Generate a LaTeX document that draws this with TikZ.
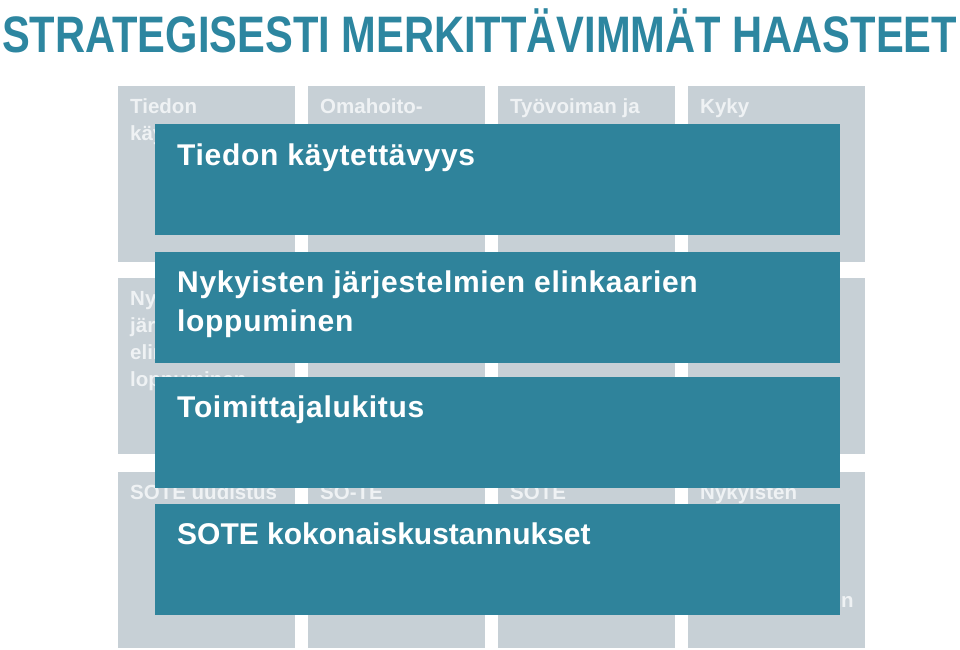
\documentclass[tikz,border=0pt]{standalone}
\usepackage{fontspec}
\setmainfont{Liberation Sans}
\newfontfamily\spacedfont{Liberation Sans}[LetterSpace=2.3]
\usepackage{graphicx}
\definecolor{teal1}{HTML}{2F839B}
\definecolor{titleteal}{HTML}{2D86A0}
\definecolor{grayfill}{HTML}{C7D0D6}
\definecolor{graytxt}{HTML}{EFF2F4}
\tikzset{
  graybox/.style={draw=none, fill=grayfill, anchor=north west, minimum width=177pt, minimum height=176pt, inner sep=0pt, outer sep=0pt},
  graytext/.style={anchor=base west, inner sep=0pt, text=graytxt, font=\fontsize{20.5}{27.3}\selectfont\bfseries},
  tealbox/.style={draw=none, fill=teal1, anchor=north west, minimum width=685pt, minimum height=111pt, inner sep=0pt, outer sep=0pt},
  tealtext/.style={anchor=base west, inner sep=0pt, text=white, font=\fontsize{30}{39}\selectfont\bfseries},
}
\begin{document}
\begin{tikzpicture}[x=1pt, y=-1pt]
\useasboundingbox (0,0) rectangle (960,649);
% title
\node[anchor=base west, inner sep=0pt, text=titleteal] (title) at (2,52)
  {\resizebox{955pt}{\height}{\fontsize{51.3}{60}\selectfont\bfseries STRATEGISESTI MERKITTÄVIMMÄT HAASTEET}};
% gray grid
\node[graybox] (g11) at (118,86) {};
\node[graybox] (g12) at (308,86) {};
\node[graybox] (g13) at (498,86) {};
\node[graybox] (g14) at (688,86) {};
\node[graybox] (g21) at (118,278) {};
\node[graybox] (g22) at (308,278) {};
\node[graybox] (g23) at (498,278) {};
\node[graybox] (g24) at (688,278) {};
\node[graybox] (g31) at (118,472) {};
\node[graybox] (g32) at (308,472) {};
\node[graybox] (g33) at (498,472) {};
\node[graybox] (g34) at (688,472) {};
% gray texts
\node[graytext] (t11) at (130,113) {\parbox[t]{165pt}{\raggedright Tiedon\\käytettävyys}};
\node[graytext] (t12) at (320,113) {Omahoito-};
\node[graytext] (t13) at (510,113) {Työvoiman ja};
\node[graytext] (t14) at (700,113) {Kyky};
\node[graytext] (t21) at (130,305) {\parbox[t]{165pt}{\raggedright Nykyisten\\järjestelmien\\elinkaarien\\loppuminen}};
\node[graytext] (t31) at (130,499) {SOTE uudistus};
\node[graytext] (t32) at (320,499) {SO-TE};
\node[graytext] (t33) at (510,499) {SOTE};
\node[graytext] (t34) at (700,499) {Nykyisten};
\node[graytext] (t34b) at (841,607) {n};
% teal overlay boxes
\node[tealbox] (b1) at (155,124) {};
\node[tealbox] (b2) at (155,252) {};
\node[tealbox] (b3) at (155,377) {};
\node[tealbox] (b4) at (155,504) {};
\node[tealtext] (l1) at (177,165) {\spacedfont\bfseries Tiedon käytettävyys};
\node[tealtext] (l2) at (177,292) {\parbox[t]{640pt}{\spacedfont\bfseries\raggedright Nykyisten järjestelmien elinkaarien\\loppuminen}};
\node[tealtext] (l3) at (177,417) {\spacedfont\bfseries Toimittajalukitus};
\node[tealtext] (l4) at (177,544) {SOTE kokonaiskustannukset};
\end{tikzpicture}
\end{document}
